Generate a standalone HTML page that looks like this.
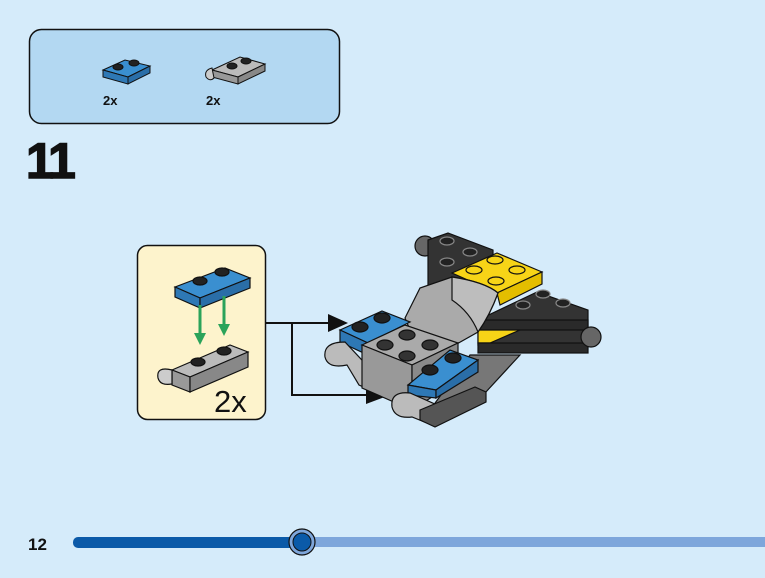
<!DOCTYPE html>
<html><head><style>
html,body{margin:0;padding:0;background:#d5ebfa;}
svg{display:block;}
text{font-family:"Liberation Sans",sans-serif;font-weight:bold;}
</style></head><body>
<svg width="765" height="578" viewBox="0 0 765 578" xmlns="http://www.w3.org/2000/svg">
<rect width="765" height="578" fill="#d5ebfa"/>
<rect x="29.5" y="29.5" width="310" height="94" rx="12" fill="#b3d8f2" stroke="#111" stroke-width="1.5"/>
<g stroke="#111" stroke-width="1">
<polygon points="103,70 125,60 150,66 128,77" fill="#3a8fd0"/>
<polygon points="103,70 128,77 128,84 103,77" fill="#2e78b5"/>
<polygon points="128,77 150,66 150,73 128,84" fill="#2a6ea8"/>
<ellipse cx="118" cy="67" rx="5" ry="3" fill="#222"/>
<ellipse cx="134" cy="63" rx="5" ry="3" fill="#222"/>
<polygon points="212,70 240,57 265,64 238,77" fill="#bbb"/>
<polygon points="212,70 238,77 238,84 212,77" fill="#999"/>
<polygon points="238,77 265,64 265,71 238,84" fill="#888"/>
<ellipse cx="232" cy="66" rx="5" ry="3" fill="#222"/>
<ellipse cx="246" cy="61" rx="5" ry="3" fill="#222"/>
<path d="M212,68 q-8,2 -6,9 q4,5 8,1 z" fill="#ccc"/>
</g>
<text x="103" y="105" font-size="13" fill="#111">2x</text>
<text x="206" y="105" font-size="13" fill="#111">2x</text>
<text x="26" y="178" font-size="50" fill="#111" stroke="#111" stroke-width="1.5" letter-spacing="-3">11</text>
<rect x="137.5" y="245.5" width="128" height="174" rx="10" fill="#fdf3cc" stroke="#111" stroke-width="1.5"/>
<g stroke="#111" stroke-width="1.2">
<polygon points="175,287 225,268 250,278 200,298" fill="#3a8fd0"/>
<polygon points="175,287 200,298 200,308 175,297" fill="#2e78b5"/>
<polygon points="200,298 250,278 250,288 200,308" fill="#2a6ea8"/>
<ellipse cx="200" cy="281" rx="7" ry="4" fill="#222"/>
<ellipse cx="222" cy="272" rx="7" ry="4" fill="#222"/>
<polygon points="172,370 230,345 248,352 190,377" fill="#bbb"/>
<polygon points="172,370 190,377 190,392 172,385" fill="#999"/>
<polygon points="190,377 248,352 248,367 190,392" fill="#888"/>
<ellipse cx="198" cy="362" rx="7" ry="4" fill="#222"/>
<ellipse cx="224" cy="351" rx="7" ry="4" fill="#222"/>
<path d="M172,370 q-16,-4 -14,8 q2,8 14,6 z" fill="#ccc"/>
</g>
<g stroke="#2aa35a" stroke-width="3" fill="#2aa35a">
<line x1="200" y1="305" x2="200" y2="335"/><polygon points="194,333 206,333 200,345" stroke="none"/>
<line x1="224" y1="296" x2="224" y2="326"/><polygon points="218,324 230,324 224,336" stroke="none"/>
</g>
<text x="214" y="412" font-size="31" fill="#111" style="font-weight:normal">2x</text>
<g stroke="#111" stroke-width="2" fill="none">
<polyline points="266,323 335,323"/>
<polyline points="292,323 292,395 370,395"/>
</g>
<polygon points="328,314 348,323 328,332" fill="#111"/>
<polygon points="366,386 390,395 366,404" fill="#111"/>
<g stroke="#111" stroke-width="1.2">
<circle cx="425" cy="246" r="10" fill="#666"/>
<polygon points="428,240 448,233 493,250 493,290 428,285" fill="#333"/>
<ellipse cx="447" cy="241" rx="7" ry="4" fill="#222" stroke="#888"/>
<ellipse cx="470" cy="252" rx="7" ry="4" fill="#222" stroke="#888"/>
<ellipse cx="447" cy="262" rx="7" ry="4" fill="#222" stroke="#888"/>
<polygon points="452,273 497,253 542,272 497,293" fill="#f7d417"/>
<polygon points="497,293 542,272 542,284 500,305" fill="#e4be00"/>
<ellipse cx="495" cy="260" rx="8" ry="4" fill="#f7d417"/>
<ellipse cx="517" cy="270" rx="8" ry="4" fill="#f7d417"/>
<ellipse cx="474" cy="270" rx="8" ry="4" fill="#f7d417"/>
<ellipse cx="496" cy="281" rx="8" ry="4" fill="#f7d417"/>
<polygon points="478,320 537,292 588,310 588,345 478,345" fill="#333"/>
<rect x="478" y="320" width="110" height="10" fill="#2a2a2a"/>
<polygon points="478,330 520,330 490,343 478,343" fill="#f7d417"/>
<rect x="478" y="343" width="110" height="10" fill="#2a2a2a"/>
<circle cx="591" cy="337" r="10" fill="#666"/>
<ellipse cx="543" cy="294" rx="7" ry="4" fill="#222" stroke="#888"/>
<ellipse cx="563" cy="303" rx="7" ry="4" fill="#222" stroke="#888"/>
<ellipse cx="523" cy="305" rx="7" ry="4" fill="#222" stroke="#888"/>
<polygon points="470,355 520,355 485,393 430,410" fill="#777"/>
<path d="M405,318 L420,288 L452,277 Q485,282 498,293 Q490,315 478,332 L455,345 L410,330 Z" fill="#aaa"/>
<path d="M452,277 Q485,282 498,293 Q490,315 478,332 Q470,312 452,300 Z" fill="#bdbdbd"/>
<polygon points="340,330 382,311 410,322 368,343" fill="#3a8fd0"/>
<polygon points="340,330 368,343 368,355 340,342" fill="#2e78b5"/>
<ellipse cx="360" cy="327" rx="8" ry="5" fill="#222"/>
<ellipse cx="382" cy="318" rx="8" ry="5" fill="#222"/>
<path d="M345,342 q-22,0 -20,15 q3,12 22,8 l12,20 l45,20 z" fill="#bbb"/>
<polygon points="362,345 405,325 458,343 412,365" fill="#aaa"/>
<polygon points="362,345 412,365 412,410 362,388" fill="#999"/>
<polygon points="412,365 458,343 458,380 412,410" fill="#8a8a8a"/>
<ellipse cx="385" cy="345" rx="8" ry="5" fill="#333"/>
<ellipse cx="407" cy="335" rx="8" ry="5" fill="#333"/>
<ellipse cx="407" cy="356" rx="8" ry="5" fill="#333"/>
<ellipse cx="430" cy="345" rx="8" ry="5" fill="#333"/>
<polygon points="408,385 450,350 478,360 436,390" fill="#3a8fd0"/>
<polygon points="408,385 436,390 436,398 408,395" fill="#2e78b5"/>
<polygon points="436,390 478,360 478,372 436,398" fill="#2a6ea8"/>
<ellipse cx="430" cy="370" rx="8" ry="5" fill="#222"/>
<ellipse cx="453" cy="358" rx="8" ry="5" fill="#222"/>
<path d="M410,393 q-20,-2 -18,14 q3,12 20,10 l20,8 l5,-20 z" fill="#bbb"/>
<polygon points="420,410 475,387 486,392 486,402 435,427 420,420" fill="#555"/>
</g>
<text x="28" y="550" font-size="17" fill="#111">12</text>
<rect x="302" y="537" width="463" height="10" fill="#7ea6db"/>
<rect x="73" y="537" width="230" height="11" rx="5" fill="#0b5aa8"/>
<circle cx="302" cy="542" r="13" fill="#7ea6db" stroke="#111" stroke-width="1.2"/>
<circle cx="302" cy="542" r="9" fill="#0b5aa8" stroke="#111" stroke-width="1"/>
</svg>
</body></html>
